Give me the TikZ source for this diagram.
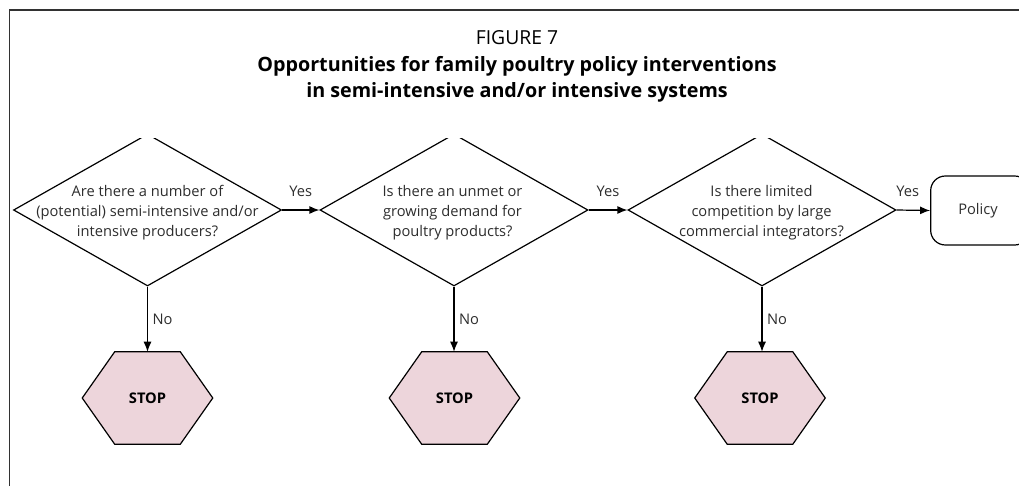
\documentclass[tikz,border=0pt]{standalone}
\usepackage{fontspec}
\setmainfont{Open Sans}
\usetikzlibrary{shapes.geometric,arrows.meta,calc}
\definecolor{txt}{RGB}{45,45,45}
\definecolor{stoppink}{RGB}{237,213,219}
\definecolor{framegray}{RGB}{50,50,50}
\begin{document}
\begin{tikzpicture}[x=0.75pt,y=-0.75pt,
  frame/.style={draw=framegray,line width=1.2pt},
  dia/.style={diamond,draw=black,line width=0.9pt,minimum width=201pt,minimum height=114pt,inner sep=0pt},
  qtext/.style={text=txt,font=\fontsize{11}{15}\selectfont,align=center,inner sep=0pt},
  stopframe/.style={rectangle,minimum width=97.5pt,minimum height=69pt,inner sep=0pt},
  stopfill/.style={fill=stoppink,draw=black,line width=0.9pt,line join=miter},
  stoptext/.style={font=\fontsize{11}{13}\bfseries\selectfont,text=black},
  policybox/.style={draw=black,line width=0.9pt,rounded corners=11pt,minimum width=74pt,minimum height=51.75pt,inner sep=0pt},
  arr/.style={-{Latex[length=7.5pt,width=6pt]},line width=0.9pt,draw=black},
  lab/.style={text=txt,font=\fontsize{11}{13}\selectfont},
]
\useasboundingbox (0,0) rectangle (1019,486);
% frame
\draw[frame] (9.5,486) -- (9.5,10) -- (1025,10);
% title
\node[text=black,font=\fontsize{14.5}{19.5}\selectfont] (fig) at (517,38) {FIGURE 7};
\node[text=black,font=\fontsize{14.8}{19.5}\bfseries\selectfont,align=center] (title) at (517,79)
  {Opportunities for family poultry policy interventions\\in semi-intensive and/or intensive systems};
% diamonds (apex hidden, as in the reference)
\begin{scope}
\clip (0,138.5) rectangle (1019,486);
\node[dia] (d1) at (147.5,210) {};
\node[dia] (d2) at (454,210) {};
\node[dia] (d3) at (762,210) {};
\end{scope}
\node[qtext] (q1) at (147.5,213) {Are there a number of\\(potential) semi-intensive and/or\\intensive producers?};
\node[qtext] (q2) at (452.5,213) {Is there an unmet or\\growing demand for\\poultry products?};
\node[qtext] (q3) at (761.5,213) {Is there limited\\competition by large\\commercial integrators?};
% policy
\node[policybox] (pol) at (980,210.5) {};
\node[lab] (poltext) at (978,211) {Policy};
% stop hexagons
\foreach \n/\x in {1/147.5,2/454.5,3/760}{
  \node[stopframe] (s\n) at (\x,398) {};
  \draw[stopfill] ($(s\n.north west)+(32.5,0)$) -- ($(s\n.north east)+(-32.5,0)$) -- (s\n.east)
     -- ($(s\n.south east)+(-32.5,0)$) -- ($(s\n.south west)+(32.5,0)$) -- (s\n.west) -- cycle;
  \node[stoptext] (st\n) at (s\n) {STOP};
}
% connectors
\draw[arr] (d1.east) -- node[lab,above=6.5pt] {Yes} (d2.west);
\draw[arr] (d2.east) -- node[lab,above=6.5pt] {Yes} (d3.west);
\draw[arr] (d3.east) -- node[lab,above=6.5pt,pos=0.33] {Yes} (pol.west);
\draw[arr] (d1.south) -- node[lab,right] {No} (s1.north -| d1.south);
\draw[arr] (d2.south) -- node[lab,right] {No} (s2.north -| d2.south);
\draw[arr] (d3.south) -- node[lab,right] {No} (s3.north -| d3.south);
\end{tikzpicture}
\end{document}
